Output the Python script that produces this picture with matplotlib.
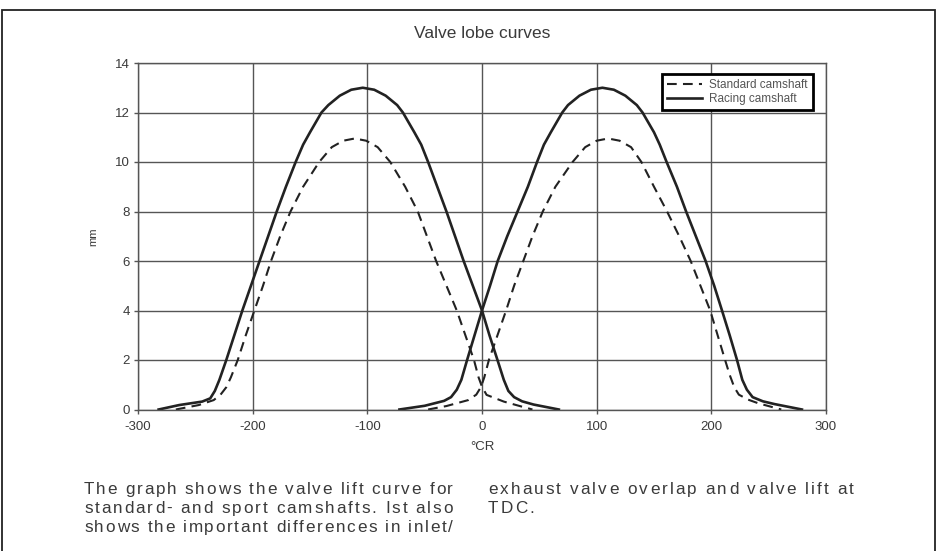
import matplotlib
matplotlib.use("Agg")
import matplotlib.pyplot as plt
from matplotlib.patches import Rectangle

plt.rcParams['font.family'] = ['Liberation Sans', 'DejaVu Sans']
plt.rcParams['lines.scale_dashes'] = False
plt.rcParams['axes.unicode_minus'] = False

# ---- data ----
x_ticks = [-300, -200, -100, 0, 100, 200, 300]
y_ticks = [0, 2, 4, 6, 8, 10, 12, 14]

# Racing camshaft, first lobe
racing1_x = [-282, -264, -244, -237, -233, -229, -223, -216, -209, -201.5, -194, -186.5, -179,
             -171, -162.5, -156, -150, -140, -134, -124, -114, -104, -94, -84, -74, -69, -59,
             -53, -47, -39, -31, -23.5, -16, -8, 0, 6.5, 13.5, 19, 23, 28, 35, 45, 67]
racing1_y = [0, 0.18, 0.32, 0.45, 0.75, 1.2, 2, 3, 4, 5, 6, 7, 8,
             9, 10, 10.7, 11.2, 12, 12.3, 12.68, 12.92, 13.0, 12.92, 12.68, 12.3, 12, 11.2,
             10.7, 10, 9, 8, 7, 6, 5, 4, 3, 2, 1.2, 0.75, 0.5, 0.33, 0.2, 0]
# Racing camshaft, second lobe
racing2_x = [-72, -50, -33, -27, -22, -18, -13, -6.5, 0, 7, 13.7, 22, 31, 40, 48, 54, 60, 70,
             75, 85, 95, 105, 115, 125, 135, 140, 150, 155, 161, 170, 178, 186.5, 195, 202.5,
             209.3, 216, 222.4, 227, 231, 236, 245, 255, 279]
racing2_y = [0, 0.15, 0.35, 0.5, 0.8, 1.2, 2, 3, 4, 5, 6, 7, 8, 9, 10, 10.7, 11.2, 12,
             12.3, 12.68, 12.92, 13.0, 12.92, 12.68, 12.3, 12, 11.2, 10.7, 10, 9, 8, 7, 6, 5,
             4, 3, 2, 1.2, 0.8, 0.5, 0.33, 0.22, 0]
# Standard camshaft, first lobe
standard1_x = [-267, -247, -234, -228, -223, -219, -213, -206, -198.5, -191, -184, -176, -167,
               -156, -142, -131, -121, -111, -101, -91, -80, -67, -56, -48, -40, -31, -22,
               -14.5, -7, -3, 0, 4, 19, 36, 44]
standard1_y = [0, 0.18, 0.38, 0.6, 0.9, 1.3, 2, 3, 4, 5, 6, 7, 8,
               9, 10, 10.6, 10.86, 10.95, 10.86, 10.6, 10, 9, 8, 7, 6, 5, 4,
               3, 2, 1.3, 0.92, 0.59, 0.32, 0.1, 0]
# Standard camshaft, second lobe
standard2_x = [-47, -31, -12, -5, -1, 2, 6, 13.5, 21, 28, 36, 44, 53, 64, 79, 90, 100, 110,
               120, 130, 139, 150, 161.4, 172, 182, 190.5, 199, 205.5, 212, 216, 220, 224,
               232, 241, 261]
standard2_y = [0, 0.14, 0.38, 0.6, 0.9, 1.3, 2, 3, 4, 5, 6, 7, 8, 9, 10, 10.6, 10.86, 10.95,
               10.86, 10.6, 10, 9, 8, 7, 6, 5, 4, 3, 2, 1.4, 0.9, 0.6,
               0.4, 0.25, 0]

title = "Valve lobe curves"
x_label = "°CR"
y_label = "mm"
legend_labels = ["Standard camshaft", "Racing camshaft"]
caption_left = ["The graph shows the valve lift curve for",
                "standard- and sport camshafts. Ist also",
                "shows the important differences in inlet/"]
caption_right = ["exhaust valve overlap and valve lift at",
                 "TDC."]

# ---- figure ----
W, H = 937, 551
fig = plt.figure(figsize=(W / 100, H / 100), dpi=100)
fig.patch.set_facecolor('white')

def fx(px):
    return px / W

def fy(py):
    return 1 - py / H

ax = fig.add_axes([fx(138), fy(409.5), fx(826) - fx(138), fy(63) - fy(409.5)])

line_col = '#222222'
grid_col = '#555555'
text_col = '#3a3a3a'

ax.plot(standard1_x, standard1_y, color=line_col, lw=1.5, dashes=(7, 4.5), label=legend_labels[0])
ax.plot(standard2_x, standard2_y, color=line_col, lw=1.5, dashes=(7, 4.5))
ax.plot(racing1_x, racing1_y, color=line_col, lw=1.9, label=legend_labels[1])
ax.plot(racing2_x, racing2_y, color=line_col, lw=1.9)

ax.set_xlim(-300, 300)
ax.set_ylim(0, 14)
ax.set_xticks(x_ticks)
ax.set_yticks(y_ticks)
ax.grid(True, color=grid_col, lw=1.0)
ax.set_axisbelow(True)
for s in ax.spines.values():
    s.set_color(grid_col)
    s.set_linewidth(1.0)
ax.tick_params(direction='out', length=3, width=1.0, color=grid_col,
               labelsize=9.5, labelcolor=text_col)
ax.tick_params(axis='x', pad=5)
ax.tick_params(axis='y', pad=3)

ax.set_xlabel(x_label, fontsize=9.5, color=text_col, labelpad=6)
ax.set_ylabel(y_label, fontsize=8, color=text_col, labelpad=12)

leg = ax.legend(loc='upper right', bbox_to_anchor=(0.9815, 0.968), borderaxespad=0,
                fancybox=False, edgecolor='black', framealpha=1, fontsize=8.5,
                handlelength=3.0, handletextpad=0.6, labelspacing=0.15,
                borderpad=0.45)
leg.get_frame().set_linewidth(2.0)
for t in leg.get_texts():
    t.set_color('#555555')

fig.text(fx(482), fy(33), title, fontsize=12.5, color=text_col, ha='center', va='center')

# outer frame
fig.patches.append(Rectangle((fx(2), fy(H + 5)), fx(933), fy(10) - fy(H + 5),
                             transform=fig.transFigure, fill=False,
                             edgecolor='#222222', lw=1.3))

# caption (letter-spaced and justified, baseline aligned)
renderer = fig.canvas.get_renderer()
cap_fs = 12.3

def text_width(s):
    if not s:
        return 0.0
    t = fig.text(0, 0, s + "|", fontsize=cap_fs)
    w = t.get_window_extent(renderer).width
    t.remove()
    t = fig.text(0, 0, "|", fontsize=cap_fs)
    w -= t.get_window_extent(renderer).width
    t.remove()
    return w

def place_line(text, x0, y, x1=None, track=None):
    n = len(text)
    if x1 is not None:
        track = (x1 - x0 - text_width(text)) / (n - 1)
    for i, c in enumerate(text):
        if c == ' ':
            continue
        x = x0 + text_width(text[:i]) + track * i
        fig.text(fx(x), fy(y), c, fontsize=cap_fs, color=text_col,
                 va='baseline', ha='left')
    return track

for i, line in enumerate(caption_left):
    place_line(line, 84, 494 + 19 * i, x1=453)
tr = place_line(caption_right[0], 488, 494, x1=854)
place_line(caption_right[1], 488, 513, track=tr)

fig.savefig("out.png", dpi=100, facecolor='white')
